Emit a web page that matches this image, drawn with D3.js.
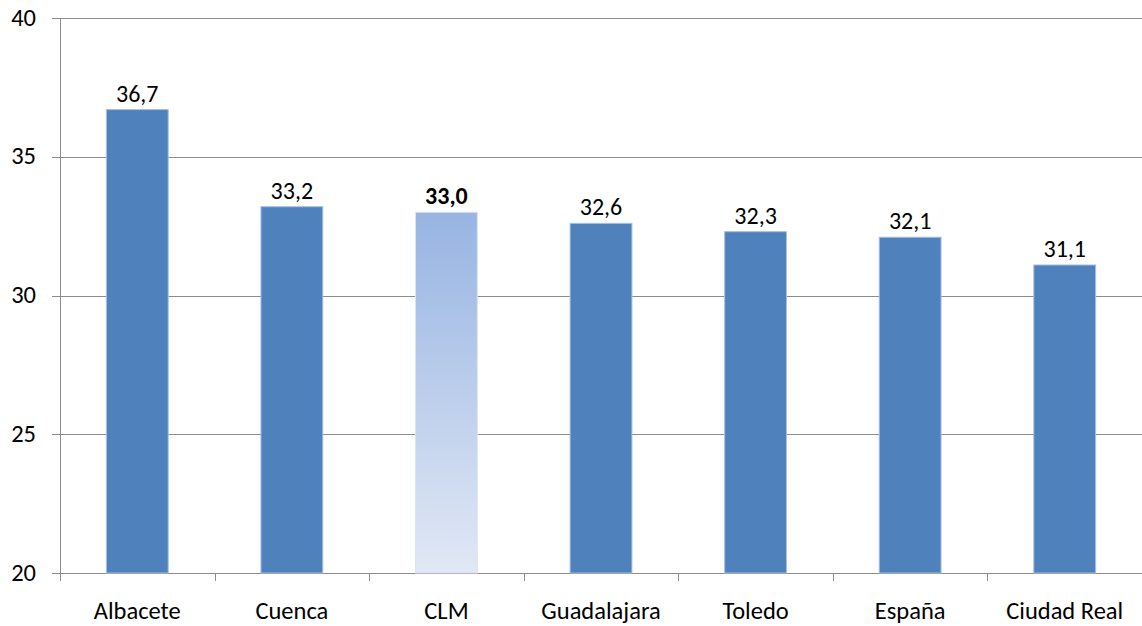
<!DOCTYPE html>
<html><head><meta charset="utf-8">
<script src="https://cdn.jsdelivr.net/npm/d3@7"></script>
<style>body{margin:0;background:#fff}svg{display:block}text{font-family:Carlito,Calibri,Lato,"Open Sans",sans-serif;fill:#000}</style>
</head><body><svg id="c" width="1142" height="626"></svg>
<script>
const categories = ["Albacete","Cuenca","CLM","Guadalajara","Toledo","España","Ciudad Real"];
const values = [36.7,33.2,33.0,32.6,32.3,32.1,31.1];
const yTicks = [20,25,30,35,40];
const highlight = "CLM";

const svg = d3.select("#c");
const m = {l:60, r:0, t:18, b:53};
const W = 1142, H = 626;
const x = d3.scaleBand().domain(categories).range([m.l, W - m.r]).paddingInner(0.6).paddingOuter(0.3);
const y = d3.scaleLinear().domain([20,40]).range([H - m.b, m.t]);

const defs = svg.append("defs");
const g = defs.append("linearGradient").attr("id","grad").attr("x1",0).attr("y1",0).attr("x2",0).attr("y2",1);
g.append("stop").attr("offset","0%").attr("stop-color","#97b4e2");
g.append("stop").attr("offset","100%").attr("stop-color","#e1e8f5");

// gridlines
svg.append("g").selectAll("line").data(yTicks).join("line")
  .attr("x1", m.l - 8).attr("x2", W)
  .attr("y1", d => Math.round(y(d)) + 0.5).attr("y2", d => Math.round(y(d)) + 0.5)
  .attr("stroke", "#8c8c8c").attr("stroke-width", 1);

// y labels
svg.append("g").selectAll("text").data(yTicks).join("text")
  .attr("x", 36).attr("y", d => y(d) + 7.5)
  .attr("text-anchor","end").style("font-size","24.5px").text(d => d);

// y axis line
svg.append("line").attr("x1", m.l + 0.5).attr("x2", m.l + 0.5)
  .attr("y1", m.t).attr("y2", H - m.b + 8).attr("stroke","#8c8c8c");

// x ticks
const step = x.step();
const bounds = d3.range(categories.length + 1).map(i => m.l + i * step);
svg.append("g").selectAll("line").data(bounds.slice(1)).join("line")
  .attr("x1", d => Math.round(d) + 0.5).attr("x2", d => Math.round(d) + 0.5)
  .attr("y1", H - m.b).attr("y2", H - m.b + 8).attr("stroke","#8c8c8c");

// bars
svg.append("g").selectAll("rect").data(categories).join("rect")
  .attr("x", d => x(d)).attr("width", x.bandwidth())
  .attr("y", (d,i) => y(values[i])).attr("height", (d,i) => y(20) - y(values[i]))
  .attr("fill", d => d === highlight ? "url(#grad)" : "#4f81bd")
  .attr("stroke", d => d === highlight ? "#dbe4f3" : "#a7c0e0").attr("stroke-width", 1);

// value labels
svg.append("g").selectAll("text").data(categories).join("text")
  .attr("x", d => x(d) + x.bandwidth()/2).attr("y", (d,i) => y(values[i]) - 8)
  .attr("text-anchor","middle").style("font-size","24px")
  .style("font-weight", d => d === highlight ? "bold" : "normal")
  .text((d,i) => values[i].toFixed(1).replace(".", ","));

// category labels
svg.append("g").selectAll("text").data(categories).join("text")
  .attr("x", d => x(d) + x.bandwidth()/2).attr("y", 619)
  .attr("text-anchor","middle").style("font-size","24.5px").text(d => d);
</script></body></html>
